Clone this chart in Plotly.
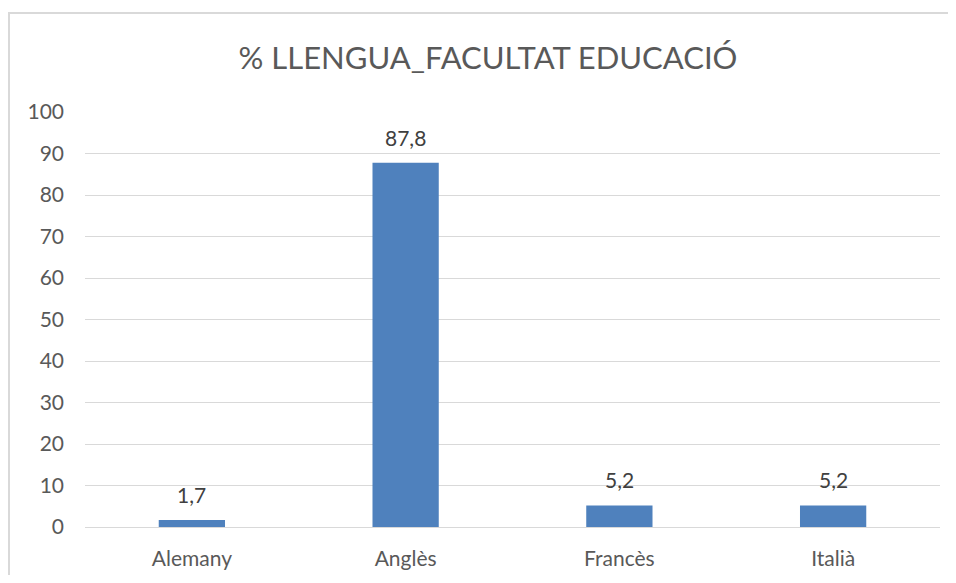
import plotly.graph_objects as go

categories = ["Alemany", "Anglès", "Francès", "Italià"]
values = [1.7, 87.8, 5.2, 5.2]
labels = ["1,7", "87,8", "5,2", "5,2"]
title = "% LLENGUA_FACULTAT EDUCACIÓ"

# page body has an 8px margin on every side; keep the figure inside the window
OFF = 8
W, H = 956 - 2 * OFF, 583 - 2 * OFF
L, T = 85 - OFF, 112 - OFF
R = (OFF + W) - 940
B = (OFF + H) - 527
pw, ph = W - L - R, H - T - B
FONT = "Lato, Open Sans, sans-serif"

fig = go.Figure(go.Bar(
    x=categories, y=values,
    marker=dict(color="#4f81bd", line=dict(width=0)),
    cliponaxis=False, hoverinfo="x+y",
))

for c, v, t in zip(categories, values, labels):
    fig.add_annotation(x=c, y=v, text=t, showarrow=False, yanchor="bottom",
                       yshift=11, font=dict(family=FONT, size=21, color="#404040"))

def px_x(p):
    return (p - OFF - L) / pw

def px_y(p):
    return (OFF + H - B - p) / ph

# outer chart border: only top and left edges are visible in the window
fig.add_shape(type="path", xref="paper", yref="paper",
              path=f"M {px_x(9)} {px_y(640)} L {px_x(9)} {px_y(13)} L {px_x(1000)} {px_y(13)}",
              line=dict(color="#d9d9d9", width=2), layer="below")

fig.update_layout(
    width=W, height=H,
    margin=dict(l=L, r=R, t=T, b=B, pad=0, autoexpand=False),
    paper_bgcolor="white", plot_bgcolor="white",
    bargap=0.69,
    showlegend=False,
    title=dict(text=title, x=(488 - OFF) / W, xref="container", xanchor="center",
               y=1 - (58 - OFF) / H, yanchor="middle",
               font=dict(family=FONT, size=31, color="#595959")),
    xaxis=dict(showgrid=False, showline=False, ticks="", zeroline=False, automargin=False,
               ticklabelstandoff=17,
               tickfont=dict(family=FONT, size=21, color="#595959")),
    yaxis=dict(range=[0, 100], dtick=10, showgrid=True, gridcolor="#d9d9d9", gridwidth=1,
               zeroline=True, zerolinecolor="#d9d9d9", zerolinewidth=1, showline=False, ticks="",
               automargin=False, ticklabelstandoff=20,
               tickfont=dict(family=FONT, size=21, color="#595959")),
)

fig.write_html("out.html")
